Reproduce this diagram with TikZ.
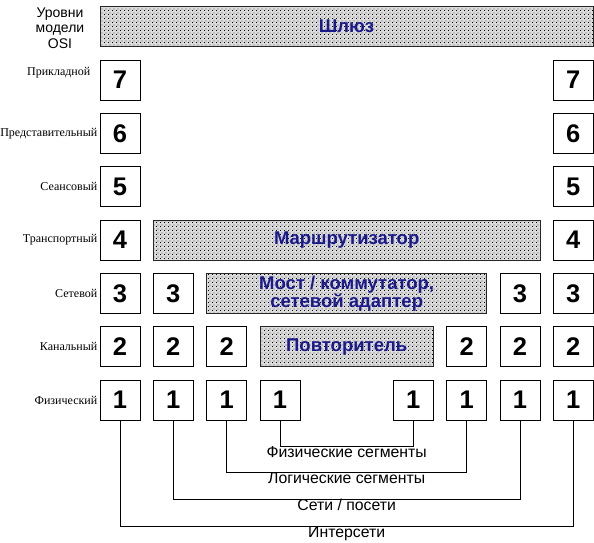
\documentclass[tikz,border=0pt]{standalone}
\usepackage{fontspec}
\setmainfont{Liberation Sans}
\newfontfamily\labelserif{Liberation Serif}
\usetikzlibrary{patterns.meta}

\definecolor{devblue}{HTML}{1A1A8C}

% fine staggered dot raster used for the device bars
\tikzdeclarepattern{
  name=osidots,
  type=uncolored,
  bounding box={(0pt,0pt) and (4pt,4pt)},
  tile size={(4pt,4pt)},
  code={
    \pgfpathrectangle{\pgfpointorigin}{\pgfpoint{1pt}{1pt}}
    \pgfpathrectangle{\pgfpoint{2pt}{2pt}}{\pgfpoint{1pt}{1pt}}
    \pgfusepath{fill}
  }
}

\tikzset{
  osibox/.style={draw=black, line width=0.9pt, fill=white, minimum size=40pt,
    inner sep=0pt, font=\fontsize{25.5}{25.5}\selectfont\bfseries},
  device/.style={draw=black!85, line width=0.9pt, preaction={fill=black!14},
    pattern=osidots, pattern color=black, inner sep=0pt,
    minimum height=40pt, align=center, text=devblue,
    font=\fontsize{18.5}{18}\selectfont\bfseries},
  rowlabel/.style={anchor=east, inner sep=0pt,
    font=\labelserif\fontsize{12}{12}\selectfont},
  wire/.style={draw=black, line width=0.8pt},
  scopelabel/.style={anchor=base, inner sep=0pt, font=\fontsize{15.8}{15.8}\selectfont}
}

\begin{document}
\begin{tikzpicture}[x=1pt, y=-1pt]
  \useasboundingbox[fill=white] (0,0) rectangle (594,543);

  % heading of the level column
  \node[align=center, inner sep=0pt, font=\fontsize{14}{15.5}\selectfont]
    (heading) at (60,28) {Уровни\\модели\\OSI};

  % names of the OSI levels
  \node[rowlabel] (lvl7) at (90.5,73) {Прикладной};
  \foreach \r/\name in {6/Представительный, 5/Сеансовый,
                        4/Транспортный, 3/Сетевой, 2/Канальный, 1/Физический}
    \node[rowlabel] (lvl\r) at (97.5, {400-53.333*(\r-1)}) {\name};

  % protocol stacks of the eight stations
  \foreach \c/\x/\n in {1/120/7, 2/173.33/3, 3/226.67/2, 4/280/1,
                        5/413.33/1, 6/466.67/2, 7/520/3, 8/573.33/7}
    \foreach \r in {1,...,\n}
      \node[osibox] (b\c-\r) at (\x, {400-53.333*(\r-1)}) {\r};

  % interconnection devices
  \node[device, minimum width=493pt]   (gateway)  at (346.5,26.5) {Шлюз};
  \node[device, minimum width=386.7pt] (router)   at (346.67,240) {Маршрутизатор};
  \node[device, minimum width=280pt]   (bridge)   at (346.67,293.33)
    {Мост / коммутатор,\\сетевой адаптер};
  \node[device, minimum width=173.3pt] (repeater) at (346.67,346.67) {Повторитель};

  % scopes joined at the physical level
  \draw[wire] (b4-1.south) -- ++(0,26)   coordinate (physL) -| (b5-1.south);
  \draw[wire] (b3-1.south) -- ++(0,52)   coordinate (logL)  -| (b6-1.south);
  \draw[wire] (b2-1.south) -- ++(0,79)   coordinate (netL)  -| (b7-1.south);
  \draw[wire] (b1-1.south) -- ++(0,105.5) coordinate (intL) -| (b8-1.south);

  \node[scopelabel] (physT) at (346.67,457) {Физические сегменты};
  \node[scopelabel] (logT)  at (346.67,483.5) {Логические сегменты};
  \node[scopelabel] (netT)  at (346.67,510.5) {Сети / посети};
  \node[scopelabel] (intT)  at (346.67,537)   {Интерсети};
\end{tikzpicture}
\end{document}
